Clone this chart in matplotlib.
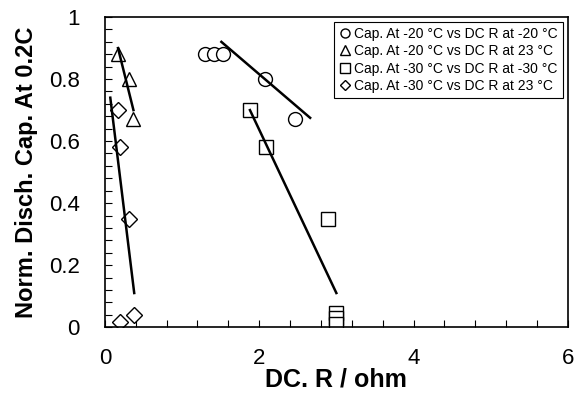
import matplotlib
matplotlib.use("Agg")
from matplotlib import pyplot as plt
from matplotlib.ticker import MultipleLocator, FuncFormatter

plt.rcParams['font.family'] = ['Liberation Sans', 'DejaVu Sans']

# Cap. At -20 C vs DC R at -20 C
r_m20_m20 = [1.30, 1.42, 1.53, 2.08, 2.47]
cap_m20_m20 = [0.88, 0.88, 0.88, 0.80, 0.67]
fit_r_m20_m20 = [1.51, 2.66]
fit_cap_m20_m20 = [0.92, 0.675]

# Cap. At -20 C vs DC R at 23 C
r_m20_23 = [0.17, 0.31, 0.37]
cap_m20_23 = [0.88, 0.80, 0.67]
fit_r_m20_23 = [0.17, 0.37]
fit_cap_m20_23 = [0.90, 0.70]

# Cap. At -30 C vs DC R at -30 C
r_m30_m30 = [1.88, 2.09, 2.89, 3.00, 3.00, 3.00]
cap_m30_m30 = [0.70, 0.58, 0.35, 0.045, 0.03, 0.01]
fit_r_m30_m30 = [1.88, 3.00]
fit_cap_m30_m30 = [0.70, 0.11]

# Cap. At -30 C vs DC R at 23 C
r_m30_23 = [0.17, 0.20, 0.31, 0.19, 0.38]
cap_m30_23 = [0.70, 0.58, 0.35, 0.015, 0.04]
fit_r_m30_23 = [0.07, 0.38]
fit_cap_m30_23 = [0.74, 0.11]

fig = plt.figure(figsize=(5.86, 3.97), dpi=100)
ax = fig.add_axes([0.179, 0.176, 0.79, 0.781])

mk = dict(linestyle='none', markerfacecolor='white', markeredgecolor='black',
          markeredgewidth=1.0, markersize=10)
ax.plot(r_m20_m20, cap_m20_m20, marker='o', label='Cap. At -20 °C vs DC R at -20 °C', **mk)
ax.plot(r_m20_23, cap_m20_23, marker='^', label='Cap. At -20 °C vs DC R at 23 °C', **mk)
ax.plot(r_m30_m30, cap_m30_m30, marker='s', label='Cap. At -30 °C vs DC R at -30 °C', **mk)
ax.plot(r_m30_23, cap_m30_23, marker='D', label='Cap. At -30 °C vs DC R at 23 °C',
        **{**mk, 'markersize': 8})

for fx, fy in [(fit_r_m20_m20, fit_cap_m20_m20), (fit_r_m20_23, fit_cap_m20_23),
               (fit_r_m30_m30, fit_cap_m30_m30), (fit_r_m30_23, fit_cap_m30_23)]:
    ax.plot(fx, fy, color='black', linewidth=1.8)

ax.set_xlim(0, 6)
ax.set_ylim(0, 1)
ax.xaxis.set_major_locator(MultipleLocator(2))
ax.xaxis.set_minor_locator(MultipleLocator(0.4))
ax.yaxis.set_major_locator(MultipleLocator(0.2))
ax.yaxis.set_minor_locator(MultipleLocator(0.04))
ax.yaxis.set_major_formatter(FuncFormatter(lambda v, p: f"{v:g}"))
ax.tick_params(which='both', direction='in', top=False, right=False,
               labelsize=16, length=5, width=0.8, pad=18)
ax.tick_params(axis='x', which='both', pad=15)
for s in ax.spines.values():
    s.set_linewidth(1.2)

ax.set_xlabel("DC. R / ohm", fontsize=18, fontweight='bold', labelpad=-1)
ax.set_ylabel("Norm. Disch. Cap. At 0.2C", fontsize=17, fontweight='bold', labelpad=8)

leg = ax.legend(loc='upper right', fontsize=10, handletextpad=0.15, handlelength=1.0,
                markerscale=0.65, fancybox=False, edgecolor='black', framealpha=1,
                borderaxespad=0.35, labelspacing=0.25, borderpad=0.35)
leg.get_frame().set_linewidth(0.8)

plt.savefig("out.png", dpi=100)
